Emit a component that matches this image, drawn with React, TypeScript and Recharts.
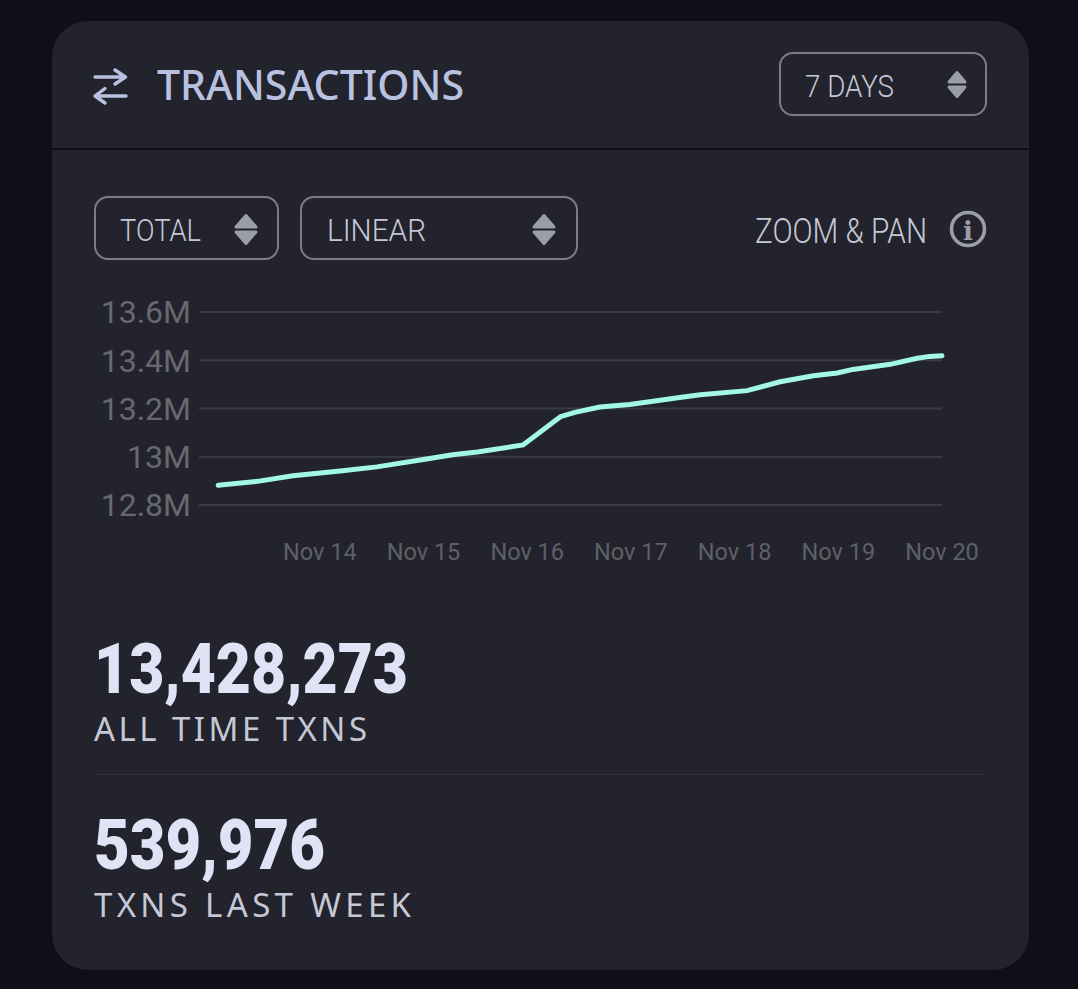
import { CartesianGrid, Line, LineChart, XAxis, YAxis } from "recharts"

// x position in days of November, y in millions of transactions
const days = [
  13.02, 13.4, 13.74, 14.22, 14.55, 15.03, 15.28, 15.52, 15.96, 16.32, 16.46, 16.7, 16.99, 17.47,
  17.67, 18.12, 18.44, 18.76, 18.99, 19.14, 19.5, 19.76, 19.88, 20,
]
const txns = [
  12.882, 12.898, 12.921, 12.942, 12.958, 12.991, 13.008, 13.02, 13.049, 13.166, 13.184, 13.206,
  13.217, 13.246, 13.257, 13.274, 13.311, 13.336, 13.347, 13.362, 13.383, 13.408, 13.416, 13.419,
]
const xTicks = [14, 15, 16, 17, 18, 19, 20]
const yTicks = [12.8, 13, 13.2, 13.4, 13.6]

const data = days.map((day, i) => ({ day, txns: txns[i] }))

const condensed = "Roboto, sans-serif"
const round = "'Noto Sans', sans-serif"

function Stepper({ cx, top, half, h }: { cx: number; top: number; half: number; h: number }) {
  const bottom = top + 2 * h + 5
  return (
    <g fill="#9b9da8" stroke="#9b9da8" strokeWidth={3} strokeLinejoin="round">
      <path d={`M${cx} ${top + 1.5}L${cx + half - 1.5} ${top + h}H${cx - half + 1.5}Z`} />
      <path d={`M${cx} ${bottom - 1.5}L${cx + half - 1.5} ${bottom - h}H${cx - half + 1.5}Z`} />
    </g>
  )
}

function Box({ x, y, w, h }: { x: number; y: number; w: number; h: number }) {
  return <rect x={x} y={y} width={w} height={h} rx={13} fill="none" stroke="#7a7c89" strokeWidth={2} />
}

function Txt({
  x,
  y,
  w,
  size,
  fill,
  font = condensed,
  weight = 400,
  adjust = "spacingAndGlyphs",
  children,
}: {
  x: number
  y: number
  w: number
  size: number
  fill: string
  font?: string
  weight?: number
  adjust?: string
  children: string
}) {
  return (
    <text
      x={x}
      y={y}
      textLength={w}
      lengthAdjust={adjust}
      fontSize={size}
      fill={fill}
      fontFamily={font}
      fontWeight={weight}
    >
      {children}
    </text>
  )
}

export default function App() {
  return (
    <div style={{ position: "absolute", left: 0, top: 0, width: 1078, height: 989, background: "#0e0f17" }}>
      <svg width={1078} height={989} style={{ position: "absolute", left: 0, top: 0 }}>
        <rect x={52} y={21} width={977} height={949} rx={36} fill="#22232c" />
        <rect x={52} y={148} width={977} height={2} fill="#0e0f17" />
        <rect x={94} y={774} width={892} height={1} fill="#32323f" />

        <g fill="none" stroke="#b8c2e0" strokeWidth={3.4} strokeLinecap="round" strokeLinejoin="round">
          <path d="M95 77H125M115 70L125.5 77L115 84" />
          <path d="M126 96H96M105 88.500L95 96L105 103" />
        </g>
        <Txt x={157} y={100} w={307} size={41} fill="#b8c2e0" font={round} weight={500}>
          TRANSACTIONS
        </Txt>

        <Box x={780} y={53} w={206} h={62} />
        <Txt x={805} y={97} w={89} size={32} fill="#c6c8d6" weight={300}>
          7 DAYS
        </Txt>
        <Stepper cx={957} top={71} half={9.500} h={11} />

        <Box x={95} y={197} w={183} h={62} />
        <Txt x={120} y={241} w={81} size={32} fill="#c6c8d6" weight={300}>
          TOTAL
        </Txt>
        <Stepper cx={246} top={214} half={11.500} h={13} />

        <Box x={301} y={197} w={276} h={62} />
        <Txt x={327} y={241} w={99} size={32} fill="#c6c8d6" weight={300}>
          LINEAR
        </Txt>
        <Stepper cx={544} top={214} half={11.500} h={13} />

        <Txt x={755} y={243} w={172} size={35} fill="#c6c8d6" weight={300}>
          ZOOM & PAN
        </Txt>
        <circle cx={968} cy={229} r={16.500} fill="none" stroke="#9b9da8" strokeWidth={3.600} />
        <text x={968} y={240} textAnchor="middle" fontSize={26} fontWeight={700} fill="#9b9da8" fontFamily="'DejaVu Serif', serif">
          i
        </text>

        <Txt x={94} y={693} w={314} size={71} fill="#e0e2f6" weight={900}>
          13,428,273
        </Txt>
        <Txt x={94} y={741} w={273} size={33} fill="#c6c8d6" font={round} weight={400} adjust="spacing">
          ALL TIME TXNS
        </Txt>
        <Txt x={94} y={869} w={231} size={71} fill="#e0e2f6" weight={900}>
          539,976
        </Txt>
        <Txt x={94} y={917} w={317} size={33} fill="#c6c8d6" font={round} weight={400} adjust="spacing">
          TXNS LAST WEEK
        </Txt>
      </svg>

      <div style={{ position: "absolute", left: 0, top: 280 }}>
        <LineChart width={1078} height={300} data={data} margin={{ top: 32, right: 136, bottom: 0, left: 0 }}>
          <CartesianGrid horizontal vertical={false} stroke="#3a3b44" strokeWidth={2} />
          <XAxis
            dataKey="day"
            type="number"
            domain={[12.835, 20]}
            ticks={xTicks}
            interval={0}
            height={75}
            axisLine={false}
            tickLine={false}
            tickSize={0}
            tickMargin={38}
            tickFormatter={(d) => `Nov ${d}`}
            tick={{ fill: "#5f6067", fontSize: 23.500, fontFamily: "Roboto, sans-serif" }}
          />
          <YAxis
            type="number"
            domain={[12.8, 13.6]}
            ticks={yTicks}
            interval={0}
            width={199}
            axisLine={false}
            tickLine={false}
            tickSize={0}
            tickMargin={8}
            tickFormatter={(v) => `${v}M`}
            tick={{ fill: "#68696f", fontSize: 32, fontFamily: "Roboto, sans-serif" }}
          />
          <Line
            type="linear"
            dataKey="txns"
            stroke="#a2f8e5"
            strokeWidth={5}
            strokeLinecap="round"
            dot={false}
            isAnimationActive={false}
          />
        </LineChart>
      </div>
    </div>
  )
}
